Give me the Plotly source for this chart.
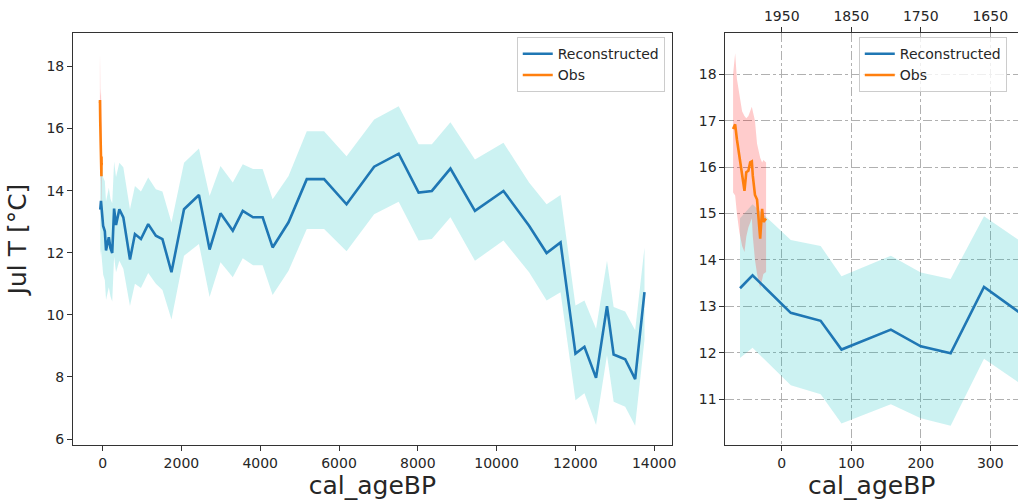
import plotly.graph_objects as go

# ---------------- data ----------------
rec_age = [-60, -42, 13, 56, 86, 157, 200, 243, 291, 340, 424, 525, 694, 820, 972,
           1157, 1351, 1518, 1747, 2066, 2445, 2715, 2992, 3304, 3557, 3818, 4062,
           4315, 4719, 5182, 5621, 6192, 6892, 7515, 8021, 8357, 8829, 9451, 10175,
           10825, 11270, 11624, 12003, 12230, 12525, 12803, 12972, 13265, 13518, 13755]
rec_T = [13.39, 13.67, 12.86, 12.69, 12.07, 12.50, 12.14, 11.99, 13.42, 12.89, 13.40,
         13.14, 11.78, 12.60, 12.44, 12.92, 12.55, 12.44, 11.37, 13.40, 13.86, 12.10,
         13.27, 12.71, 13.35, 13.14, 13.14, 12.17, 12.98, 14.37, 14.37, 13.56, 14.77,
         15.19, 13.94, 13.99, 14.71, 13.35, 13.99, 12.87, 11.99, 12.33, 8.75, 8.97,
         7.97, 10.28, 8.72, 8.57, 7.93, 10.73]
rec_hi = [14.90, 15.20, 14.43, 14.30, 13.65, 14.09, 13.73, 13.59, 14.94, 14.44, 14.90,
          14.75, 13.40, 14.15, 13.97, 14.42, 14.04, 13.97, 12.97, 14.90, 15.36, 13.83,
          14.79, 14.26, 14.85, 14.70, 14.70, 13.72, 14.47, 15.91, 15.91, 15.11, 16.29,
          16.72, 15.49, 15.49, 16.20, 15.00, 15.54, 14.26, 13.56, 13.86, 10.30, 10.46,
          9.55, 11.74, 10.25, 10.11, 9.50, 12.17]
rec_lo = [11.89, 12.11, 11.30, 11.11, 10.48, 10.89, 10.59, 10.43, 11.87, 11.37, 11.74,
          11.48, 10.28, 11.00, 10.86, 11.35, 11.00, 10.80, 9.85, 11.90, 12.28, 10.57,
          11.69, 11.21, 11.82, 11.60, 11.60, 10.64, 11.42, 12.76, 12.76, 12.05, 13.24,
          13.64, 12.39, 12.44, 13.14, 11.74, 12.39, 11.37, 10.46, 10.73, 7.25, 7.47,
          6.45, 8.70, 7.20, 7.04, 6.43, 9.20]

obs_age = [-70, -67, -64.5, -61, -57, -53.6, -51, -48, -45.4, -43, -41.6, -38.5,
           -35.5, -31, -28.2, -26.4, -22.5]
obs_T = [16.82, 16.92, 16.60, 16.24, 15.81, 15.49, 15.89, 15.92, 16.10, 16.12, 15.81,
         15.40, 15.30, 14.46, 15.10, 14.82, 14.89]
obs_hi = [18.00, 18.45, 17.90, 17.60, 17.20, 17.10, 17.05, 17.10, 17.20, 17.30, 17.20,
          17.00, 16.50, 16.20, 16.10, 16.15, 16.10]
obs_lo = [15.45, 15.39, 15.00, 14.60, 14.30, 14.17, 14.50, 14.70, 14.80, 14.90, 14.50,
          14.00, 13.70, 13.39, 13.60, 13.70, 13.74]

left_xticks = [0, 2000, 4000, 6000, 8000, 10000, 12000, 14000]
left_yticks = [6, 8, 10, 12, 14, 16, 18]
right_xticks = [0, 100, 200, 300]
right_yticks = [11, 12, 13, 14, 15, 16, 17, 18]
top_year_ticks = [1950, 1850, 1750, 1650]
BASE_YEAR = 1950

BLUE = "#1f77b4"
ORANGE = "#ff7f0e"
CYAN_FILL = "rgba(0,191,191,0.2)"
RED_FILL = "rgba(255,0,0,0.2)"
TXT = "#262626"
AX = "#333333"

fig = go.Figure()


def add_panel(xa, ya, legend):
    fig.add_trace(go.Scatter(
        x=rec_age + rec_age[::-1], y=rec_hi + rec_lo[::-1],
        fill="toself", fillcolor=CYAN_FILL, line=dict(width=0),
        mode="lines", showlegend=False, hoverinfo="skip", xaxis=xa, yaxis=ya))
    fig.add_trace(go.Scatter(
        x=obs_age + obs_age[::-1], y=obs_hi + obs_lo[::-1],
        fill="toself", fillcolor=RED_FILL, line=dict(width=0),
        mode="lines", showlegend=False, hoverinfo="skip", xaxis=xa, yaxis=ya))
    fig.add_trace(go.Scatter(
        x=rec_age, y=rec_T, mode="lines", name="Reconstructed",
        line=dict(color=BLUE, width=2.6), xaxis=xa, yaxis=ya, legend=legend))
    fig.add_trace(go.Scatter(
        x=obs_age, y=obs_T, mode="lines", name="Obs",
        line=dict(color=ORANGE, width=2.6), xaxis=xa, yaxis=ya, legend=legend))


add_panel("x", "y", "legend")
add_panel("x2", "y2", "legend2")

# invisible trace for the top (calendar year) axis of the right panel
fig.add_trace(go.Scatter(
    x=[BASE_YEAR - a for a in rec_age], y=rec_T, mode="lines",
    line=dict(color="rgba(0,0,0,0)", width=0), showlegend=False,
    hoverinfo="skip", xaxis="x3", yaxis="y2"))

tickfont = dict(family="DejaVu Sans", size=14, color=TXT)
titlefont = dict(family="DejaVu Sans", size=25, color=TXT)

common_axis = dict(showline=True, linecolor=AX, linewidth=1, ticks="outside",
                   ticklen=5, tickwidth=1, tickcolor=AX, tickfont=tickfont,
                   zeroline=False)

ydom = [0.1131, 0.9345]

fig.update_layout(
    width=1023, height=504,
    margin=dict(l=0, r=0, t=0, b=0),
    paper_bgcolor="white", plot_bgcolor="white",
    font=dict(family="DejaVu Sans", color=TXT),
    xaxis=dict(domain=[0.0718, 0.6598], range=[-750, 14445],
               tickvals=left_xticks, tickformat="d", mirror=True, showgrid=False,
               title=dict(text="cal_ageBP", font=titlefont, standoff=4),
               anchor="y", **common_axis),
    yaxis=dict(domain=ydom, range=[5.80, 19.08], tickvals=left_yticks,
               mirror=True, showgrid=False,
               title=dict(text="Jul T [°C]", font=titlefont, standoff=12),
               anchor="x", **common_axis),
    xaxis2=dict(domain=[0.7126, 1.0], range=[-81, 339.9], tickvals=right_xticks,
                showgrid=True, gridcolor="#b0b0b0", griddash="dashdot", gridwidth=1,
                title=dict(text="cal_ageBP", font=titlefont, standoff=4),
                anchor="y2", **common_axis),
    yaxis2=dict(domain=ydom, range=[10.01, 18.89], tickvals=right_yticks,
                showgrid=True, gridcolor="#b0b0b0", griddash="dashdot", gridwidth=1,
                anchor="x2", **common_axis),
    xaxis3=dict(overlaying="x2", side="top", anchor="y2",
                range=[BASE_YEAR + 81, BASE_YEAR - 339.9], tickvals=top_year_ticks,
                tickformat="d", showgrid=False, **common_axis),
    legend=dict(x=0.653, xanchor="right", y=0.926, yanchor="top",
                bgcolor="rgba(255,255,255,0.8)", bordercolor="#cccccc", borderwidth=1,
                font=dict(family="DejaVu Sans", size=14, color=TXT),
                tracegroupgap=0),
    legend2=dict(x=0.8436, xanchor="left", y=0.926, yanchor="top",
                 bgcolor="rgba(255,255,255,0.8)", bordercolor="#cccccc", borderwidth=1,
                 font=dict(family="DejaVu Sans", size=14, color=TXT),
                 tracegroupgap=0),
    showlegend=True,
)

fig.write_html("out.html",
               config={"displayModeBar": False},
               post_script="document.body.style.margin='0';"
                           "document.body.style.overflow='hidden';")
